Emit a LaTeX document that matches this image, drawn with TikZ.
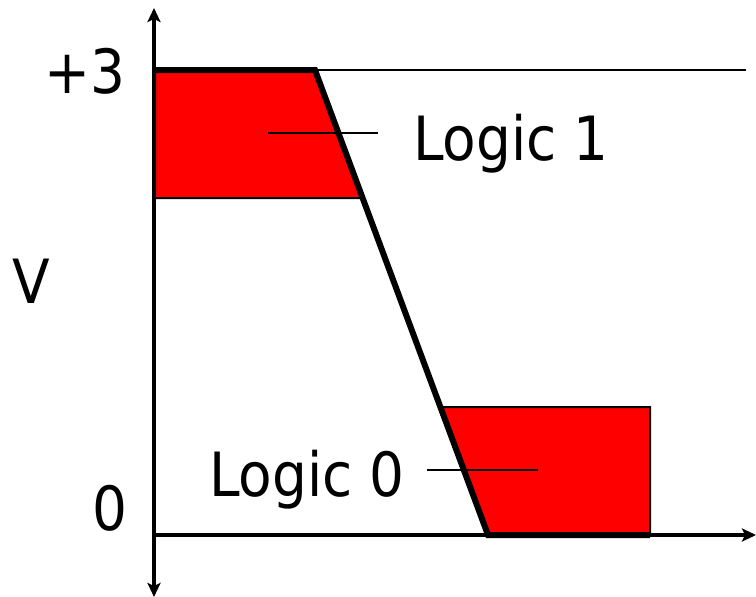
\documentclass[tikz,border=0pt]{standalone}
\usepackage{fontspec}
\setmainfont{DejaVu Sans Condensed}
\usetikzlibrary{arrows.meta}
\begin{document}
\begin{tikzpicture}[x=1pt,y=-1pt,
  zone/.style={fill=red, draw=black, line width=2pt},
  axis/.style={line width=3.5pt},
  curve/.style={line width=6pt, line join=miter},
  leader/.style={line width=2.5pt},
  thinline/.style={line width=2pt},
  lbl/.style={font=\fontsize{61}{64}\selectfont, inner sep=0pt}]
\useasboundingbox (0,0) rectangle (756,597);
% zones
\coordinate (k1) at (155,70);
\coordinate (k2) at (315,70);
\coordinate (k3) at (488,535);
\coordinate (k4) at (650,535);
\draw[zone] (k1) -- (k2) -- (362,198) -- (155,198) -- cycle;
\draw[zone] (440,407) -- (650,407) -- (k4) -- (k3) -- cycle;
% axes
\coordinate (ytop) at (154,8);
\coordinate (ybot) at (154,597);
\coordinate (xl) at (154,535);
\coordinate (xr) at (756,535);
\draw[axis, {Stealth[length=14pt,width=13pt,inset=3pt]}-{Stealth[length=14pt,width=13pt,inset=3pt]}] (ybot) -- (ytop);
\draw[axis, -{Stealth[length=14pt,width=13pt,inset=3pt]}] (xl) -- (xr);
% +3 reference line
\coordinate (r3) at (746,70);
\draw[thinline] (k2) -- (r3);
% transfer curve
\draw[curve] (k1) -- (k2) -- (k3) -- (k4);
% labels
\node[lbl, anchor=base east] (p3) at (126,93) {+3};
\node[lbl, anchor=base west] (V) at (12,303) {V};
\node[lbl, anchor=base east] (z) at (128,530) {0};
\node[lbl, anchor=base west] (l1) at (413,160) {Logic 1};
\node[lbl, anchor=base east] (l0) at (405,496) {Logic 0};
% leaders
\coordinate (a1) at (268,133);
\coordinate (b1) at (378,133);
\coordinate (a0) at (427,470);
\coordinate (b0) at (538,470);
\draw[leader] (a1) -- (b1);
\draw[leader] (a0) -- (b0);
\end{tikzpicture}
\end{document}
